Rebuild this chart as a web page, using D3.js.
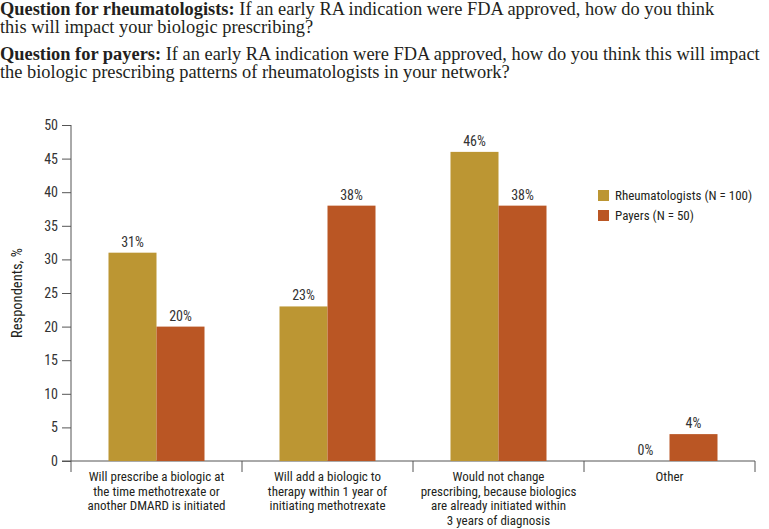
<!DOCTYPE html>
<html><head><meta charset="utf-8">
<script src="https://cdn.jsdelivr.net/npm/d3@7"></script>
<style>
body{margin:0;background:#fff;}
svg{display:block;}
.cond{font-family:"Liberation Sans Narrow","Roboto Condensed","Liberation Sans",Arial,sans-serif;}
.serif{font-family:"Liberation Serif","DejaVu Serif",serif;}
</style></head>
<body>
<script>
const categories = [
  ["Will prescribe a biologic at","the time methotrexate or","another DMARD is initiated"],
  ["Will add a biologic to","therapy within 1 year of","initiating methotrexate"],
  ["Would not change","prescribing, because biologics","are already initiated within","3 years of diagnosis"],
  ["Other"]
];
const seriesNames = ["Rheumatologists (N = 100)", "Payers (N = 50)"];
const rheumatologists = [31, 23, 46, 0];
const payers = [20, 38, 38, 4];
const yTicks = [0,5,10,15,20,25,30,35,40,45,50];
const colors = ["#BC9633", "#BA5624"];

const W = 769, H = 529;
const svg = d3.select("body").append("svg").attr("width", W).attr("height", H);

// Titles
const titles = [
  {y:15, bold:"Question for rheumatologists:", text:" If an early RA indication were FDA approved, how do you think"},
  {y:33, bold:"", text:"this will impact your biologic prescribing?"},
  {y:60, bold:"Question for payers:", text:" If an early RA indication were FDA approved, how do you think this will impact"},
  {y:78, bold:"", text:"the biologic prescribing patterns of rheumatologists in your network?"}
];
titles.forEach(t => {
  const tx = svg.append("text").attr("class","serif").attr("x",0).attr("y",t.y)
    .attr("font-size",18.4).attr("fill","#231f20");
  if (t.bold) tx.append("tspan").attr("font-weight","bold").text(t.bold);
  tx.append("tspan").text(t.text);
});

const x0 = 71, x1 = 755, yTop = 125, yBot = 461;
const x = d3.scaleBand().domain(d3.range(categories.length)).range([x0, x1]).paddingInner(0).paddingOuter(0);
const y = d3.scaleLinear().domain([0,50]).range([yBot, yTop]);
const groupPad = (x.bandwidth() - 96) / 2;
const xs = d3.scaleBand().domain([0,1]).range([groupPad, groupPad + 96]).padding(0);

// Y axis
const yAxis = d3.axisLeft(y).tickValues(yTicks).tickSize(9).tickPadding(4);
const gy = svg.append("g").attr("class","cond").attr("transform",`translate(${x0},0)`).call(yAxis);
gy.select(".domain").attr("stroke","#555").attr("d",`M0,${yTop}V${yBot}`);
gy.selectAll(".tick line").attr("stroke","#555");
gy.selectAll(".tick text").attr("font-size",14).attr("fill","#333").attr("font-family",null);

// X axis line and separators
svg.append("line").attr("x1",62).attr("x2",x1).attr("y1",yBot).attr("y2",yBot).attr("stroke","#555");
const seps = d3.range(categories.length+1).map(i => i < categories.length ? x(i) : x1);
svg.selectAll(".sep").data(seps).enter().append("line")
  .attr("x1",d=>d).attr("x2",d=>d).attr("y1",yBot).attr("y2",yBot+11).attr("stroke","#555");

// Category labels
categories.forEach((lines,i) => {
  const t = svg.append("text").attr("class","cond").attr("text-anchor","middle")
    .attr("font-size",13).attr("fill","#231f20");
  lines.forEach((l,j) => t.append("tspan").attr("x", x(i)+x.bandwidth()/2).attr("y", 481 + j*14.5).text(l));
});

// Bars
const data = [rheumatologists, payers];
data.forEach((vals, s) => {
  const g = svg.append("g");
  g.selectAll("rect").data(vals).enter().append("rect")
    .attr("x",(d,i)=>x(i)+xs(s)).attr("width",xs.bandwidth())
    .attr("y",d=>y(d)).attr("height",d=>yBot-y(d)).attr("fill",colors[s]);
  g.selectAll("text").data(vals).enter().append("text").attr("class","cond")
    .attr("x",(d,i)=>x(i)+xs(s)+xs.bandwidth()/2).attr("y",d=>y(d)-6)
    .attr("text-anchor","middle").attr("font-size",14).attr("fill","#333")
    .text(d=>d+"%");
});

// Y label
svg.append("text").attr("class","cond").attr("transform",`translate(22,${(yTop+yBot)/2}) rotate(-90)`)
  .attr("text-anchor","middle").attr("font-size",14.5).attr("fill","#231f20").text("Respondents, %");

// Legend
seriesNames.forEach((n,i) => {
  svg.append("rect").attr("x",598).attr("y",190+i*20).attr("width",11).attr("height",11).attr("fill",colors[i]);
  svg.append("text").attr("class","cond").attr("x",615).attr("y",200+i*20).attr("font-size",13)
    .attr("fill","#231f20").text(n);
});
</script>
</body></html>
